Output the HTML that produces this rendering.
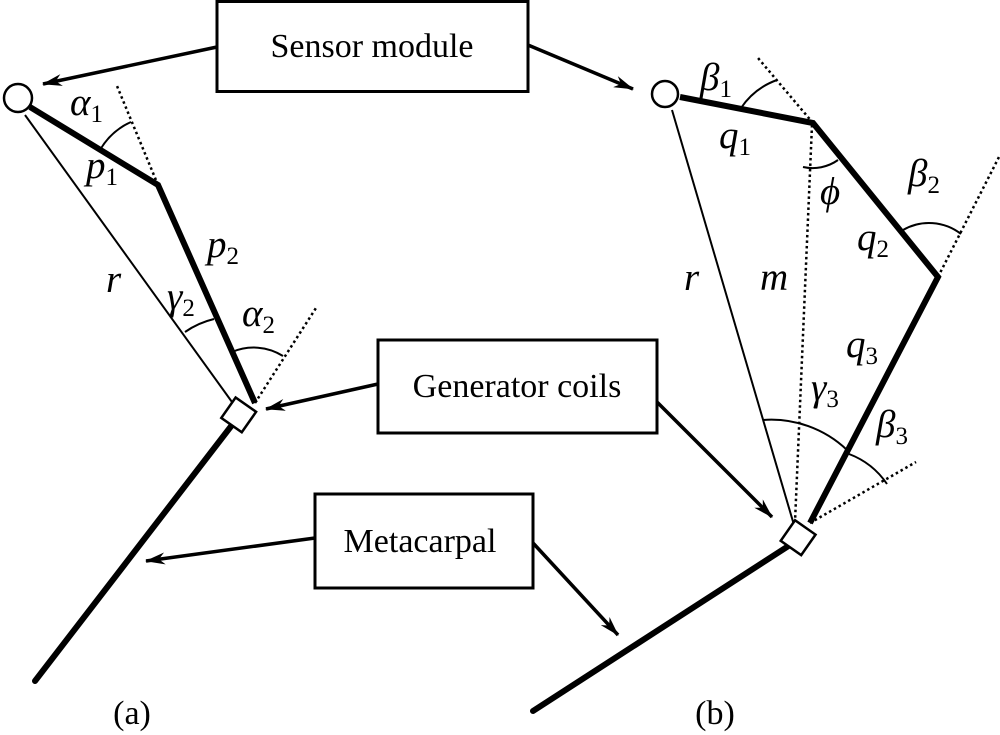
<!DOCTYPE html>
<html><head><meta charset="utf-8"><style>
html,body{margin:0;padding:0;background:#fff;}
svg{display:block;}
text{font-family:"Liberation Serif",serif;fill:#000;}
.lab{font-size:34px;}
.m{font-style:italic;font-size:39px;}
.s{font-style:normal;font-size:25px;}
</style></head><body>
<svg width="1000" height="735" viewBox="0 0 1000 735" xmlns="http://www.w3.org/2000/svg">
<defs>
<marker id="ar" viewBox="0 0 20 12" refX="19" refY="6" markerWidth="20" markerHeight="12" markerUnits="userSpaceOnUse" orient="auto">
<path d="M0,0 L20,6 L0,12 L6,6 Z" fill="#000"/>
</marker>
</defs>
<g fill="none" stroke="#000">
<rect x="217" y="1.5" width="311" height="90" stroke-width="3"/>
<rect x="378" y="340" width="279" height="93" stroke-width="3"/>
<rect x="315" y="494" width="218" height="94" stroke-width="3"/>
<g stroke-width="3.5" marker-end="url(#ar)">
<line x1="217" y1="47" x2="43" y2="84"/>
<line x1="528" y1="45" x2="633" y2="89"/>
<line x1="378" y1="384" x2="266" y2="409"/>
<line x1="657" y1="402" x2="772" y2="517"/>
<line x1="315" y1="538" x2="146" y2="561"/>
<line x1="533" y1="543" x2="618" y2="635"/>
</g>
<line x1="25" y1="115" x2="232" y2="402" stroke-width="2"/>
<polyline points="30,107 158,185 255,403" stroke-width="6" stroke-linejoin="miter"/>
<line x1="232" y1="425" x2="35" y2="681" stroke-width="6" stroke-linecap="round"/>
<g stroke-width="2.5" stroke-dasharray="2.5,3">
<line x1="158" y1="185" x2="117" y2="86"/>
<line x1="255" y1="403" x2="316" y2="308"/>
</g>
<g stroke-width="2">
<path d="M100,150 A68,68 0 0 1 131,122"/>
<path d="M232,352 A55,55 0 0 1 283,356"/>
<path d="M185,332 A85,85 0 0 1 214,319"/>
</g>
<circle cx="18" cy="98" r="14" fill="#fff" stroke-width="2.5"/>
<rect x="226" y="402" width="25" height="25" fill="#fff" stroke-width="2.5" transform="rotate(35 238 415)"/>
<line x1="672" y1="110" x2="794" y2="525" stroke-width="2"/>
<polyline points="680,97 813,123 938,277 810,523" stroke-width="6" stroke-linejoin="miter"/>
<line x1="790" y1="545" x2="533" y2="711" stroke-width="6" stroke-linecap="round"/>
<g stroke-width="2.5" stroke-dasharray="2.5,3">
<line x1="812" y1="125" x2="795" y2="522"/>
<line x1="813" y1="123" x2="758" y2="58"/>
<line x1="938" y1="277" x2="1000" y2="155"/>
<line x1="810" y1="523" x2="916" y2="462"/>
</g>
<g stroke-width="2">
<path d="M741,108 A73,73 0 0 1 777,80"/>
<path d="M803,167 A44,44 0 0 0 838,160"/>
<path d="M903,230 A52,52 0 0 1 961,234"/>
<path d="M849,454 A80,80 0 0 1 887,484"/>
<path d="M763,420 A110,110 0 0 1 847,450"/>
</g>
<circle cx="665" cy="94" r="13" fill="#fff" stroke-width="2.5"/>
<rect x="786" y="525" width="25" height="25" fill="#fff" stroke-width="2.5" transform="rotate(35 798 537)"/>
</g>
<text class="lab" x="372" y="57" text-anchor="middle">Sensor module</text>
<text class="lab" x="517" y="397" text-anchor="middle">Generator coils</text>
<text class="lab" x="420" y="552" text-anchor="middle">Metacarpal</text>
<text class="lab" x="132" y="724" text-anchor="middle">(a)</text>
<text class="lab" x="715" y="724" text-anchor="middle">(b)</text>
<text class="m" x="70" y="115">α<tspan class="s" dy="7">1</tspan></text>
<text class="m" x="86" y="178">p<tspan class="s" dy="7">1</tspan></text>
<text class="m" x="207" y="257">p<tspan class="s" dy="7">2</tspan></text>
<text class="m" x="106" y="292">r</text>
<text class="m" x="167" y="309">γ<tspan class="s" dy="7">2</tspan></text>
<text class="m" x="242" y="326">α<tspan class="s" dy="7">2</tspan></text>
<text class="m" x="700" y="90">β<tspan class="s" dy="7">1</tspan></text>
<text class="m" x="719" y="148">q<tspan class="s" dy="7">1</tspan></text>
<text class="m" x="820" y="204">ϕ</text>
<text class="m" x="908" y="186">β<tspan class="s" dy="7">2</tspan></text>
<text class="m" x="857" y="250">q<tspan class="s" dy="7">2</tspan></text>
<text class="m" x="684" y="290">r</text>
<text class="m" x="760" y="290">m</text>
<text class="m" x="846" y="357">q<tspan class="s" dy="7">3</tspan></text>
<text class="m" x="811" y="400">γ<tspan class="s" dy="7">3</tspan></text>
<text class="m" x="876" y="437">β<tspan class="s" dy="7">3</tspan></text>
</svg>
</body></html>
